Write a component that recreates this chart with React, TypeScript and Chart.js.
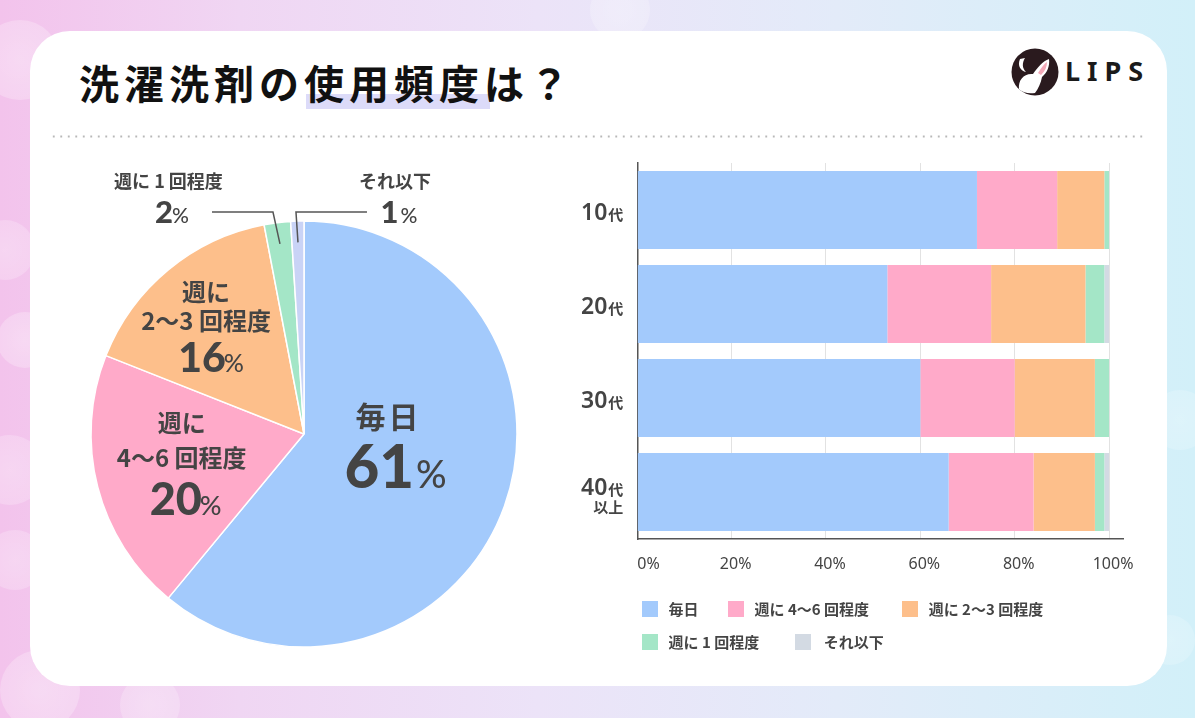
import React, { useEffect, useRef } from "react";
import { Chart, registerables } from "chart.js";

Chart.register(...registerables);

// ---------- data ----------
const pieLabels = ["毎日", "週に4〜6回程度", "週に2〜3回程度", "週に1回程度", "それ以下"];
const pieValues = [61, 20, 16, 2, 1];
const pieLabelLines = [["毎日"], ["週に", "4〜6 回程度"], ["週に", "2〜3 回程度"], ["週に 1 回程度"], ["それ以下"]];

const barCategories = ["10代", "20代", "30代", "40代以上"];
const seriesNames = ["毎日", "週に 4〜6 回程度", "週に 2〜3 回程度", "週に 1 回程度", "それ以下"];
const dailyValues = [72, 53, 60, 66];
const w46Values = [17, 22, 20, 18];
const w23Values = [10, 20, 17, 13];
const w1Values = [1, 4, 3, 2];
const lessValues = [0, 1, 0, 1];
const xTickValues = [0, 20, 40, 60, 80, 100];

const sliceColors = ["#A3CAFC", "#FFAAC9", "#FDBF8B", "#A4E6C7", "#C9D3F6"];
const barColors = ["#A3CAFC", "#FFAAC9", "#FDBF8B", "#A4E6C7", "#D3DAE3"];

const JP = '"Noto Sans CJK JP", "Noto Sans", sans-serif';
const NUM = 'Lato, "Noto Sans", sans-serif';
const TEXT = "#444444";

type Run = { text: string; font: string; gap?: number };

function drawRuns(ctx: CanvasRenderingContext2D, runs: Run[], cx: number, baseline: number) {
  let total = 0;
  const widths = runs.map((r) => {
    ctx.font = r.font;
    const w = ctx.measureText(r.text).width;
    total += w + (r.gap || 0);
    return w;
  });
  let x = cx - total / 2;
  ctx.textAlign = "left";
  ctx.textBaseline = "alphabetic";
  runs.forEach((r, i) => {
    ctx.font = r.font;
    ctx.fillText(r.text, x, baseline);
    x += widths[i] + (r.gap || 0);
  });
}

const insideCfg: any = {
  0: { shift: -11.4, r: 0.42, font: `700 30px ${JP}`, ls: "3px", dys: [-30], dx: -4, pdx: 3, pdy: 41, num: `900 60px ${NUM}`, sym: `500 38px ${NUM}`, gap: 2 },
  1: { shift: 1.4, r: 0.58, font: `700 24px ${JP}`, ls: "0px", dys: [-39, -4], dx: -2, pdx: 2, pdy: 53, num: `900 45px ${NUM}`, sym: `500 27px ${NUM}`, gap: -2 },
  2: { shift: -2.4, r: 0.68, font: `700 24px ${JP}`, ls: "0px", dys: [-34, -5], dx: -1, pdx: 4, pdy: 46, num: `900 41px ${NUM}`, sym: `500 25px ${NUM}`, gap: -2 },
};
const outsideCfg: any = {
  3: { side: -1, elbowDx: -7, len: 61, ndx: -43.5, pdx: -40, gap: -1 },
  4: { side: 1, elbowDx: -2, len: 71, ndx: 28, pdx: 32, gap: 2 },
};

const piePlugin = {
  id: "pieLabels",
  afterDatasetsDraw(chart: any) {
    const ctx: CanvasRenderingContext2D = chart.ctx;
    const meta = chart.getDatasetMeta(0);
    ctx.save();
    ctx.fillStyle = TEXT;
    meta.data.forEach((arc: any, i: number) => {
      const p = arc.getProps(["x", "y", "startAngle", "endAngle", "outerRadius"], true);
      const mid = (p.startAngle + p.endAngle) / 2;
      const pct = String(pieValues[i]);
      if (insideCfg[i]) {
        const c = insideCfg[i];
        const a = mid + (c.shift * Math.PI) / 180;
        const ax = p.x + Math.cos(a) * c.r * p.outerRadius;
        const ay = p.y + Math.sin(a) * c.r * p.outerRadius;
        ctx.font = c.font;
        (ctx as any).letterSpacing = c.ls;
        ctx.textAlign = "center";
        ctx.textBaseline = "middle";
        pieLabelLines[i].forEach((line, k) => {
          ctx.fillText(line, ax + c.dx, ay + c.dys[k]);
        });
        (ctx as any).letterSpacing = "0px";
        drawRuns(ctx, [{ text: pct, font: c.num, gap: c.gap }, { text: "%", font: c.sym }], ax + c.pdx, ay + c.pdy);
      } else if (outsideCfg[i]) {
        const c = outsideCfg[i];
        const sx = p.x + Math.cos(mid) * 0.9 * p.outerRadius;
        const sy = p.y + Math.sin(mid) * 0.9 * p.outerRadius;
        const ey = p.y - 222;
        const ex = sx + c.elbowDx;
        const endX = ex + c.side * c.len;
        ctx.strokeStyle = "#555555";
        ctx.lineWidth = 1.5;
        ctx.beginPath();
        ctx.moveTo(sx, sy);
        ctx.lineTo(ex, ey);
        ctx.lineTo(endX, ey);
        ctx.stroke();
        ctx.font = `700 18px ${JP}`;
        ctx.textAlign = "center";
        ctx.textBaseline = "middle";
        ctx.fillText(pieLabelLines[i][0], endX + c.ndx, ey - 31);
        drawRuns(ctx, [{ text: pct, font: `900 31px ${NUM}`, gap: c.gap }, { text: "%", font: `500 21px ${NUM}` }], endX + c.pdx, ey + 11);
      }
    });
    ctx.restore();
  },
};

const barLabelPlugin = {
  id: "barLabels",
  afterDraw(chart: any) {
    const ctx: CanvasRenderingContext2D = chart.ctx;
    const xs = chart.scales.x;
    const ys = chart.scales.y;
    const area = chart.chartArea;
    ctx.save();
    ctx.fillStyle = TEXT;
    // x tick labels
    ctx.font = `400 16px "Noto Sans", ${JP}`;
    ctx.textBaseline = "middle";
    xTickValues.forEach((v) => {
      const px = xs.getPixelForValue(v);
      if (v === 0) {
        ctx.textAlign = "left";
        ctx.fillText(`${v}%`, px, area.bottom + 25);
      } else {
        ctx.textAlign = "center";
        ctx.fillText(`${v}%`, px + 4, area.bottom + 25);
      }
    });
    // y category labels
    const rightX = area.left - 14;
    barCategories.forEach((cat, i) => {
      const py = ys.getPixelForValue(i);
      const m = cat.match(/^(\d+)(代)(.*)$/);
      if (!m) return;
      const numFont = `600 23px "Noto Sans", ${JP}`;
      const daiFont = `700 15px ${JP}`;
      ctx.font = daiFont;
      const wd = ctx.measureText(m[2]).width;
      ctx.font = numFont;
      const wn = ctx.measureText(m[1]).width;
      const base = m[3] ? py + 2.5 : py + 10;
      ctx.textAlign = "left";
      ctx.textBaseline = "alphabetic";
      ctx.font = numFont;
      ctx.fillText(m[1], rightX - wd - wn - 1, base);
      ctx.font = daiFont;
      ctx.fillText(m[2], rightX - wd, base);
      if (m[3]) {
        ctx.textAlign = "right";
        ctx.textBaseline = "middle";
        ctx.font = `700 15px ${JP}`;
        ctx.fillText(m[3], rightX, py + 15);
      }
    });
    ctx.restore();
  },
};

function PieChart() {
  const ref = useRef<HTMLCanvasElement | null>(null);
  useEffect(() => {
    if (!ref.current) return;
    const chart = new Chart(ref.current, {
      type: "pie",
      data: {
        labels: pieLabels,
        datasets: [
          {
            data: pieValues,
            backgroundColor: sliceColors,
            borderColor: "#ffffff",
            borderWidth: 1.5,
          },
        ],
      },
      options: {
        responsive: false,
        animation: false,
        radius: 213,
        layout: { padding: 0 },
        plugins: { legend: { display: false }, tooltip: { enabled: false } },
      } as any,
      plugins: [piePlugin],
    });
    return () => chart.destroy();
  }, []);
  return (
    <canvas
      ref={ref}
      width={500}
      height={560}
      style={{ position: "absolute", left: 54, top: 154, width: 500, height: 560 }}
    />
  );
}

function BarChart() {
  const ref = useRef<HTMLCanvasElement | null>(null);
  useEffect(() => {
    if (!ref.current) return;
    const series = [dailyValues, w46Values, w23Values, w1Values, lessValues];
    const chart = new Chart(ref.current, {
      type: "bar",
      data: {
        labels: barCategories,
        datasets: seriesNames.map((name, k) => ({
          label: name,
          data: series[k],
          backgroundColor: barColors[k],
          borderWidth: 0,
          categoryPercentage: 0.83,
          barPercentage: 1,
        })),
      },
      options: {
        indexAxis: "y",
        responsive: false,
        animation: false,
        layout: { padding: { left: 77.3, top: 13, right: 36.8, bottom: 61 } },
        plugins: { legend: { display: false }, tooltip: { enabled: false } },
        scales: {
          x: {
            stacked: true,
            min: 0,
            max: 103,
            ticks: { display: false, stepSize: 20, includeBounds: false },
            grid: { color: "#E2E2E2", lineWidth: 1, drawTicks: false },
            border: { display: true, color: "#555555", width: 1.5 },
            afterFit: (s: any) => {
              s.height = 0;
            },
          },
          y: {
            stacked: true,
            ticks: { display: false },
            grid: { drawOnChartArea: false, drawTicks: false },
            border: { display: true, color: "#555555", width: 1.5 },
            afterFit: (s: any) => {
              s.width = 0;
            },
          },
        },
      } as any,
      plugins: [barLabelPlugin],
    });
    return () => chart.destroy();
  }, []);
  return (
    <canvas
      ref={ref}
      width={600}
      height={450}
      style={{ position: "absolute", left: 560, top: 150, width: 600, height: 450 }}
    />
  );
}

const legendItems = [
  { k: 0, sq: 642, tx: 668.5, cy: 609 },
  { k: 1, sq: 727.6, tx: 754.5, cy: 609 },
  { k: 2, sq: 901.8, tx: 928.7, cy: 609 },
  { k: 3, sq: 642, tx: 668.5, cy: 642 },
  { k: 4, sq: 795, tx: 823.7, cy: 642 },
];

function Logo() {
  return (
    <div style={{ position: "absolute", left: 1011, top: 48 }}>
      <svg width={48} height={48} viewBox="-24 -24 48 48" style={{ position: "absolute", left: 0, top: 0 }}>
        <circle cx={0} cy={0} r={23.5} fill="#2A1A1E" />
        <path d="M -15 -13 C -18 -6, -14 -1, -9 0 C -13 -4, -13 -9, -10 -14 Z" fill="#ffffff" />
        <path d="M -16 17 C -17 8, -11 1, -2 2 C 2 -4, 8 -11, 14 -13 C 15 -6, 12 1, 7 5 C 6 11, 3 17, 0 21 C -6 22, -12 21, -16 17 Z" fill="#ffffff" />
        <path d="M 3 1 C 6 -4, 9 -8, 12 -10 C 12 -5, 10 -1, 6 3 Z" fill="#F3A9B8" />
      </svg>
      <div
        style={{
          position: "absolute",
          left: 54,
          top: 6,
          fontFamily: '"Noto Sans", "DejaVu Sans", sans-serif',
          fontWeight: 700,
          fontSize: 27,
          lineHeight: "34px",
          letterSpacing: 7,
          color: "#1a1a1a",
          whiteSpace: "nowrap",
        }}
      >
        LIPS
      </div>
    </div>
  );
}

const bokeh = [
  { x: 20, y: 60, r: 40, o: 0.35 },
  { x: 5, y: 250, r: 30, o: 0.3 },
  { x: 25, y: 340, r: 28, o: 0.35 },
  { x: 10, y: 470, r: 35, o: 0.3 },
  { x: 15, y: 560, r: 30, o: 0.3 },
  { x: 40, y: 690, r: 40, o: 0.35 },
  { x: 150, y: 705, r: 30, o: 0.3 },
  { x: 620, y: 10, r: 30, o: 0.3 },
  { x: 1180, y: 420, r: 30, o: 0.25 },
  { x: 1170, y: 640, r: 25, o: 0.25 },
];

export default function App() {
  return (
    <div
      style={{
        position: "absolute",
        left: 0,
        top: 0,
        width: 1195,
        height: 718,
        overflow: "hidden",
        background:
          "linear-gradient(90deg, #F3C3EC 0%, #F0D6F3 20%, #ECE3F8 45%, #E3EBF9 70%, #D2F0F9 100%)",
      }}
    >
      {bokeh.map((b, i) => (
        <div
          key={i}
          style={{
            position: "absolute",
            left: b.x - b.r,
            top: b.y - b.r,
            width: b.r * 2,
            height: b.r * 2,
            borderRadius: "50%",
            background: `radial-gradient(circle, rgba(255,255,255,${b.o}) 0%, rgba(255,255,255,${b.o * 0.7}) 70%, rgba(255,255,255,0) 100%)`,
          }}
        />
      ))}
      <div
        style={{
          position: "absolute",
          left: 30,
          top: 31,
          width: 1137,
          height: 655,
          background: "#ffffff",
          borderRadius: 40,
        }}
      />
      <div
        style={{
          position: "absolute",
          left: 306,
          top: 94,
          width: 184,
          height: 15,
          background: "#DCDBF9",
        }}
      />
      <div
        style={{
          position: "absolute",
          left: 79,
          top: 62,
          fontFamily: JP,
          fontWeight: 700,
          fontSize: 40,
          lineHeight: "40px",
          letterSpacing: 5,
          color: "#111111",
          whiteSpace: "nowrap",
        }}
      >
        洗濯洗剤の使用頻度は？
      </div>
      <Logo />
      <div
        style={{
          position: "absolute",
          left: 50,
          top: 134.5,
          width: 1096,
          height: 3,
          backgroundImage: "radial-gradient(circle, #B8B8B8 0.9px, rgba(0,0,0,0) 1.3px)",
          backgroundSize: "7.5px 3px",
          backgroundRepeat: "repeat-x",
        }}
      />
      <PieChart />
      <BarChart />
      {legendItems.map((it) => (
        <React.Fragment key={it.k}>
          <div
            style={{
              position: "absolute",
              left: it.sq,
              top: it.cy - 8,
              width: 16,
              height: 16,
              background: barColors[it.k],
            }}
          />
          <div
            style={{
              position: "absolute",
              left: it.tx,
              top: it.cy - 11,
              height: 22,
              lineHeight: "22px",
              fontFamily: JP,
              fontWeight: 700,
              fontSize: 15,
              color: TEXT,
              whiteSpace: "nowrap",
            }}
          >
            {seriesNames[it.k]}
          </div>
        </React.Fragment>
      ))}
    </div>
  );
}
